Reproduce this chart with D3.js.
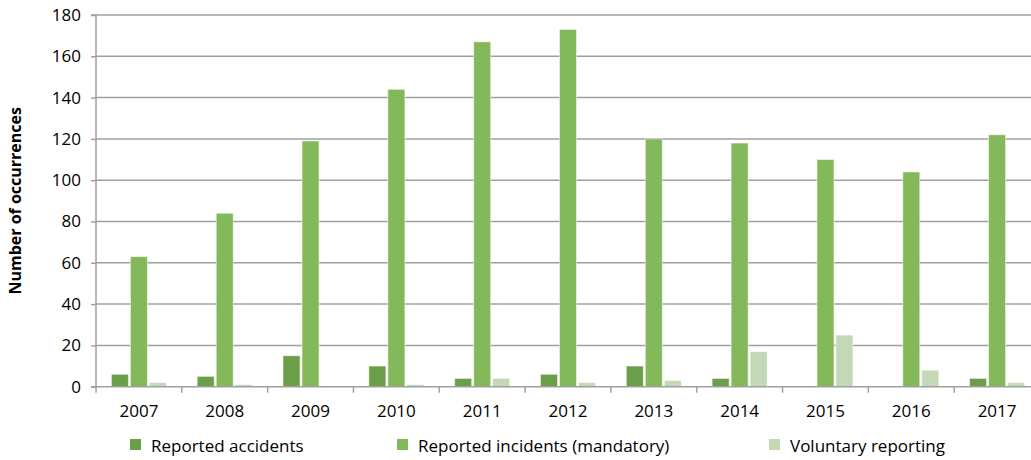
<!DOCTYPE html>
<html>
<head>
<meta charset="utf-8">
<script src="https://cdn.jsdelivr.net/npm/d3@7"></script>
<style>
  body { margin: 0; background: #fff; overflow: hidden; }
  svg { display: block; font-family: "Open Sans", sans-serif; }
</style>
</head>
<body>
<div id="chart"></div>
<script>
var svgWidth = 1031;
var svgHeight = 460;

// chart data
var years = ["2007", "2008", "2009", "2010", "2011", "2012", "2013", "2014", "2015", "2016", "2017"];
var seriesNames = ["Reported accidents", "Reported incidents (mandatory)", "Voluntary reporting"];
var accidents = [6, 5, 15, 10, 4, 6, 10, 4, 0, 0, 4];
var incidents = [63, 84, 119, 144, 167, 173, 120, 118, 110, 104, 122];
var voluntary = [2, 1, 0, 1, 4, 2, 3, 17, 25, 8, 2];
var yTicks = [0, 20, 40, 60, 80, 100, 120, 140, 160, 180];
var colors = ["#6a9e48", "#83b95a", "#c3d8b6"];

var seriesValues = [accidents, incidents, voluntary];

// plot area (right side runs past the window edge, as in the source)
var margin = { top: 15, left: 96 };
var plotRight = 1040;
var plotBottom = 386.7;

var svg = d3.select("#chart")
  .append("svg")
  .attr("width", svgWidth)
  .attr("height", svgHeight);

var xScale = d3.scaleBand()
  .domain(years)
  .range([margin.left, plotRight])
  .padding(0);

var xInner = d3.scaleBand()
  .domain(seriesNames)
  .range([0, xScale.bandwidth()])
  .paddingInner(0.105)
  .paddingOuter(0.81);

var yScale = d3.scaleLinear()
  .domain([0, 180])
  .range([plotBottom, margin.top]);

// gridlines
svg.append("g")
  .selectAll("line")
  .data(yTicks.slice(1))
  .enter()
  .append("line")
  .attr("x1", margin.left)
  .attr("x2", plotRight)
  .attr("y1", d => yScale(d))
  .attr("y2", d => yScale(d))
  .attr("stroke", "#a0a0a0")
  .attr("stroke-width", 1.5);

// bars
var groups = svg.append("g")
  .selectAll("g")
  .data(years)
  .enter()
  .append("g")
  .attr("transform", d => `translate(${xScale(d)},0)`);

groups.selectAll("rect")
  .data(function(d, i) {
    return seriesNames.map((s, j) => ({ series: s, value: seriesValues[j][i], color: colors[j] }));
  })
  .enter()
  .filter(d => d.value > 0)
  .append("rect")
  .attr("x", d => xInner(d.series))
  .attr("width", xInner.bandwidth())
  .attr("y", d => yScale(d.value))
  .attr("height", d => plotBottom - yScale(d.value))
  .attr("fill", d => d.color)
  .attr("stroke", "#ffffff")
  .attr("stroke-opacity", 0.5)
  .attr("stroke-width", 1);

// y axis
var leftAxis = d3.axisLeft(yScale)
  .tickValues(yTicks)
  .tickSize(5)
  .tickPadding(10);

var yAxisG = svg.append("g")
  .attr("transform", `translate(${margin.left},0)`)
  .call(leftAxis);

yAxisG.select(".domain").attr("stroke", "#a0a0a0").attr("stroke-width", 1.5)
  .attr("d", `M-5,${margin.top}H0V${plotBottom}H-5`);
yAxisG.selectAll(".tick line").attr("stroke", "#a0a0a0").attr("stroke-width", 1.5);
yAxisG.selectAll(".tick text")
  .attr("font-family", "Open Sans")
  .attr("font-size", 17)
  .attr("fill", "#000");

// x axis
var bottomAxis = d3.axisBottom(xScale)
  .tickSize(0)
  .tickPadding(18);

var xAxisG = svg.append("g")
  .attr("transform", `translate(0,${plotBottom})`)
  .call(bottomAxis);

xAxisG.select(".domain").attr("stroke", "#a0a0a0").attr("stroke-width", 1.5)
  .attr("d", `M${margin.left},0H${plotRight}`);
xAxisG.selectAll(".tick text")
  .attr("font-family", "Open Sans")
  .attr("font-size", 17)
  .attr("fill", "#000");

// category separator ticks on x axis
xAxisG.append("g")
  .selectAll("line")
  .data(years)
  .enter()
  .append("line")
  .attr("x1", d => xScale(d))
  .attr("x2", d => xScale(d))
  .attr("y1", 0)
  .attr("y2", 6)
  .attr("stroke", "#a0a0a0")
  .attr("stroke-width", 1.5);

// y axis title
svg.append("text")
  .attr("transform", `translate(21, ${(margin.top + plotBottom) / 2}) rotate(-90)`)
  .attr("text-anchor", "middle")
  .attr("font-weight", "bold")
  .attr("font-size", 16)
  .text("Number of occurrences");

// legend
var legendX = [130, 397, 769];
var legend = svg.append("g")
  .selectAll("g")
  .data(seriesNames)
  .enter()
  .append("g")
  .attr("transform", (d, i) => `translate(${legendX[i]}, 439)`);

legend.append("rect")
  .attr("width", 11)
  .attr("height", 11)
  .attr("fill", (d, i) => colors[i]);

legend.append("text")
  .attr("x", 21)
  .attr("y", 12.5)
  .attr("font-size", 17)
  .text(d => d);
</script>
</body>
</html>
